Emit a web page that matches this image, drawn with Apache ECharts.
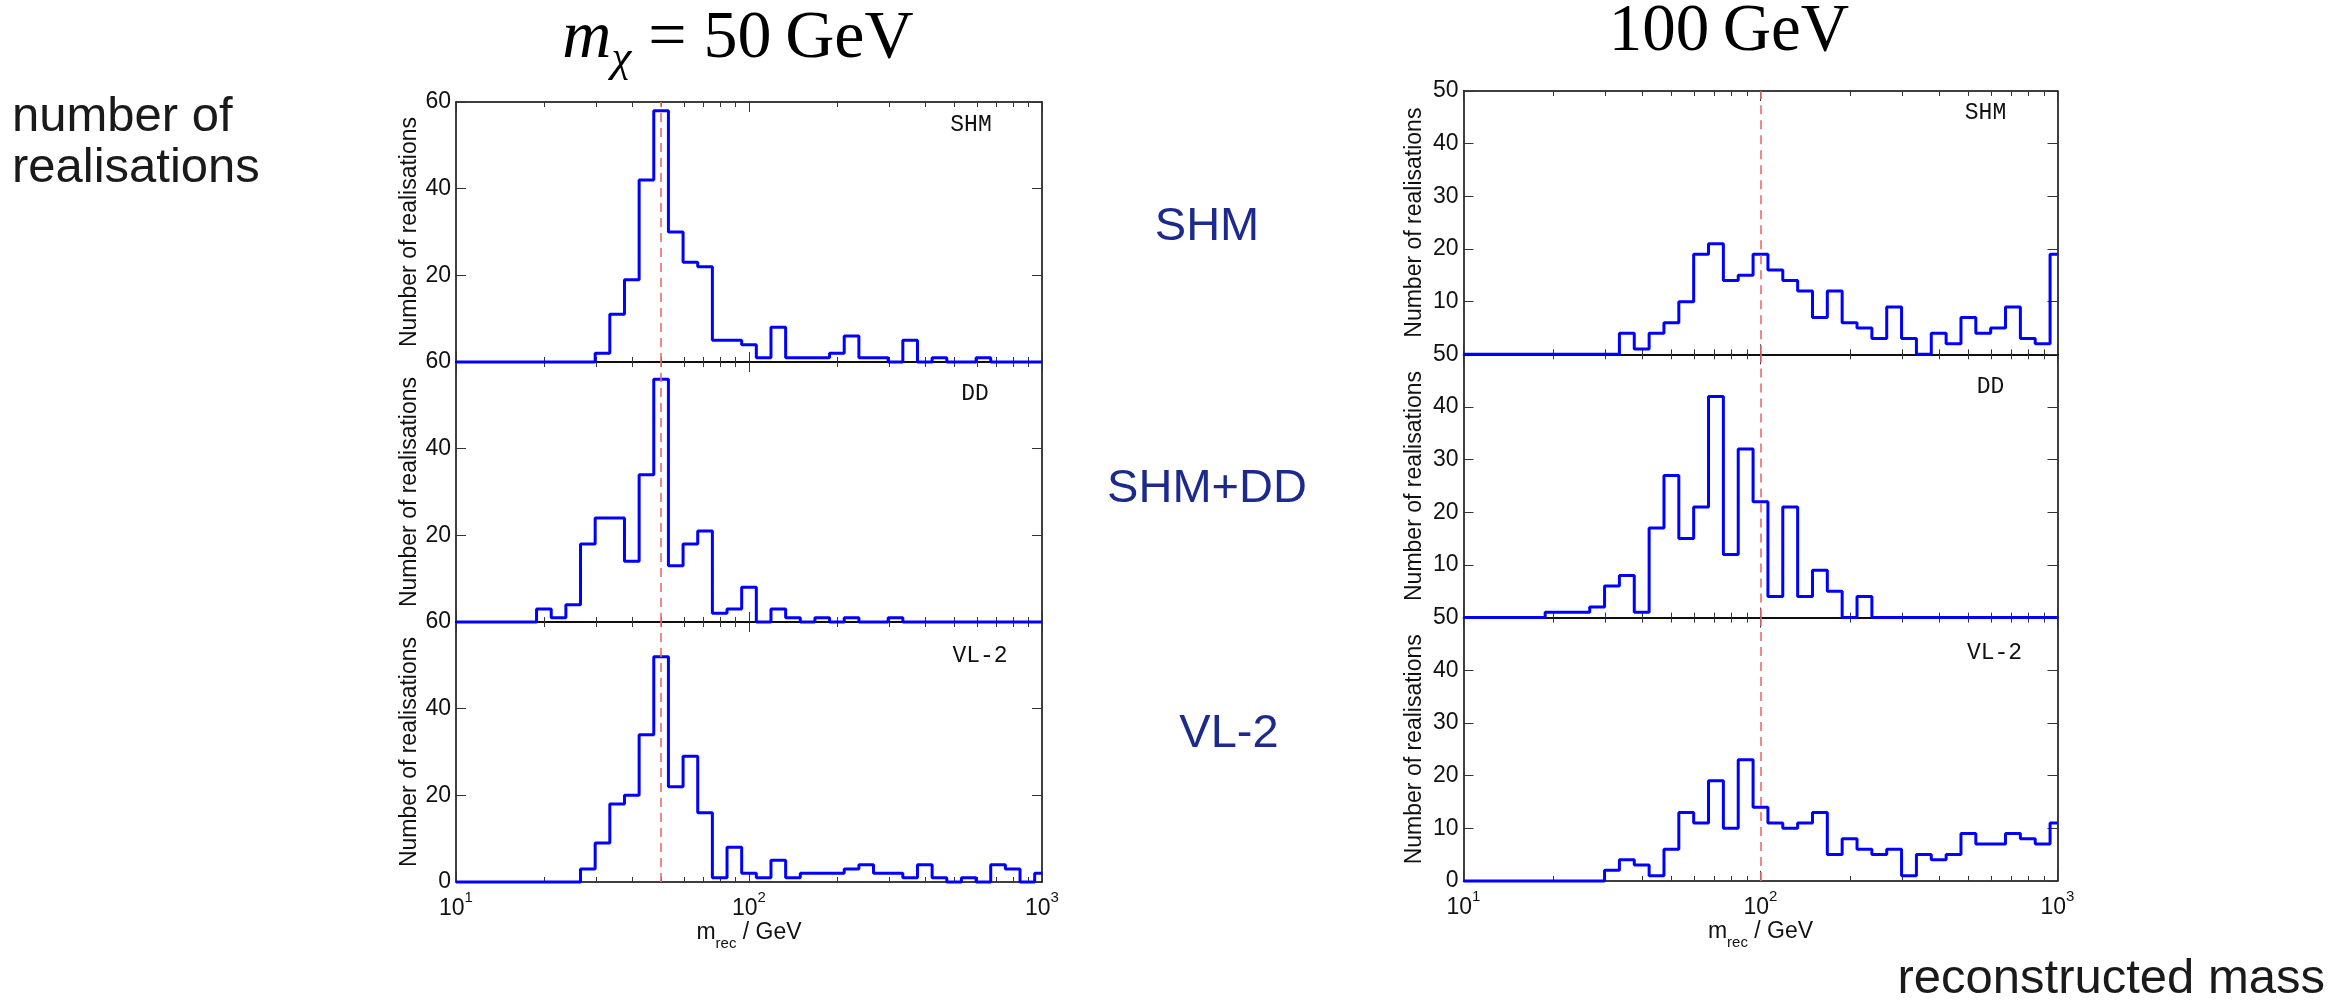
<!DOCTYPE html>
<html>
<head>
<meta charset="utf-8">
<title>Reconstructed WIMP mass histograms</title>
<script src="https://cdn.jsdelivr.net/npm/echarts@6/dist/echarts.min.js"></script>
<style>
  html, body { margin: 0; padding: 0; background: #ffffff; }
  #chart { width: 2343px; height: 1002px; }
</style>
</head>
<body>
<div id="chart"></div>
<script>
// Histogram bin centres in GeV (0.05 dex apart, 10 GeV to 1 TeV)
const binCentres = [10, 11.22, 12.59, 14.13, 15.85, 17.78, 19.95, 22.39, 25.12, 28.18,
  31.62, 35.48, 39.81, 44.67, 50.12, 56.23, 63.10, 70.79, 79.43, 89.13,
  100, 112.2, 125.9, 141.3, 158.5, 177.8, 199.5, 223.9, 251.2, 281.8,
  316.2, 354.8, 398.1, 446.7, 501.2, 562.3, 631.0, 707.9, 794.3, 891.3, 1000];

// Number of realisations per bin, true mass 50 GeV
const m50_SHM = [0,0,0,0,0,0,0,0,0,0, 2,11,19,42,58,30,23,22,5,5, 4,1,8,1,1,1,2,6,1,1, 0,5,0,1,0,0,1,0,0,0, 0];
const m50_DD  = [0,0,0,0,0,0,3,1,4,18, 24,24,14,34,56,13,18,21,2,3, 8,0,3,1,0,1,0,1,0,0, 1,0,0,0,0,0,0,0,0,0, 0];
const m50_VL2 = [0,0,0,0,0,0,0,0,0,3, 9,18,20,34,52,22,29,16,1,8, 2,1,5,1,2,2,2,3,4,2, 2,1,4,1,0,1,0,4,3,0, 2];

// Number of realisations per bin, true mass 100 GeV
const m100_SHM = [0,0,0,0,0,0,0,0,0,0, 0,4,1,4,6,10,19,21,14,15, 19,16,14,12,7,12,6,5,3,9, 3,0,4,2,7,4,5,9,3,2, 19];
const m100_DD  = [0,0,0,0,0,0,1,1,1,2, 6,8,1,17,27,15,21,42,12,32, 22,4,21,4,9,5,0,4,0,0, 0,0,0,0,0,0,0,0,0,0, 0];
const m100_VL2 = [0,0,0,0,0,0,0,0,0,0, 2,4,3,1,6,13,11,19,10,23, 14,11,10,11,13,5,8,6,5,6, 1,5,4,5,9,7,7,9,8,7, 11];

const trueMasses = [50, 100];
const haloModels = ['SHM', 'DD', 'VL-2'];
const countsByColumn = [[m50_SHM, m50_DD, m50_VL2], [m100_SHM, m100_DD, m100_VL2]];
const yMaxByColumn = [60, 50];
const yStepByColumn = [20, 10];
const majorTicks = [10, 100, 1000];
const minorTicks = [20, 30, 40, 50, 60, 70, 80, 90, 200, 300, 400, 500, 600, 700, 800, 900];
const rowTitles = ['SHM', 'SHM+DD', 'VL-2'];

const SANS = "'Liberation Sans', Arial, Helvetica, sans-serif";
const SERIF = "'Liberation Serif', 'Times New Roman', serif";
const MONO = "'Liberation Mono', 'Courier New', monospace";

// Panel placement (pixels) for the two columns of stacked histograms
const columns = [
  { left: 456, top: 102, width: 586, height: 260, nameGap: 35, tagDx: [-71, -67, -62], tagDy: [23, 32, 34] },
  { left: 1463.5, top: 91, width: 594, height: 263.3, nameGap: 37, tagDx: [-72, -67, -63], tagDy: [22, 33, 35] }
];

const grids = [], xAxes = [], yAxes = [], series = [], graphics = [];

function logAxis(gridIndex, position, ticks, tickLen, drawLine, withLabels) {
  const ax = {
    gridIndex: gridIndex, type: 'log', logBase: 10, min: 10, max: 1000, position: position,
    axisLine: { show: drawLine, onZero: false, lineStyle: { color: '#000', width: 1.5 } },
    axisTick: { show: true, inside: true, length: tickLen, customValues: ticks,
                lineStyle: { color: '#333', width: 1 } },
    axisLabel: { show: false },
    splitLine: { show: false },
    minorTick: { show: false },
    minorSplitLine: { show: false }
  };
  if (withLabels) {
    ax.axisLabel = {
      show: true, customValues: majorTicks, margin: 8,
      formatter: function (v) { return '{b|10}{e|' + Math.round(Math.log10(v)) + '}'; },
      rich: {
        b: { fontSize: 23, fontFamily: SANS, color: '#111', padding: [7, 0, 0, 0] },
        e: { fontSize: 15, fontFamily: SANS, color: '#111', verticalAlign: 'top' }
      }
    };
    ax.name = '{m|m}{s|rec}{m| / GeV}';
    ax.nameLocation = 'middle';
    ax.nameGap = 28;
    ax.nameTextStyle = {
      rich: {
        m: { fontSize: 23, fontFamily: SANS, color: '#111', lineHeight: 38 },
        s: { fontSize: 15, fontFamily: SANS, color: '#111', lineHeight: 15, verticalAlign: 'bottom' }
      }
    };
  }
  return ax;
}

columns.forEach(function (col, c) {
  const yMax = yMaxByColumn[c];
  for (let r = 0; r < 3; r++) {
    const isBottom = r === 2;
    const rect = { left: col.left, top: col.top + r * col.height, width: col.width, height: col.height };
    const gMain = grids.length;
    grids.push(Object.assign({ show: false }, rect));
    const gMinor = grids.length;
    grids.push(Object.assign({ show: false }, rect));

    const xMain = xAxes.length;
    xAxes.push(logAxis(gMain, 'bottom', majorTicks, 10, true, isBottom));
    xAxes.push(logAxis(gMain, 'top', majorTicks, 10, true, false));
    xAxes.push(logAxis(gMinor, 'bottom', minorTicks, 5, false, false));
    xAxes.push(logAxis(gMinor, 'top', minorTicks, 5, false, false));

    const yMain = yAxes.length;
    yAxes.push({
      gridIndex: gMain, type: 'value', min: 0, max: yMax, interval: yStepByColumn[c], position: 'left',
      axisLine: { show: true, onZero: false, lineStyle: { color: '#000', width: 1.5 } },
      axisTick: { show: true, inside: true, length: 10, lineStyle: { color: '#333', width: 1 } },
      axisLabel: { show: true, fontSize: 23, fontFamily: SANS, color: '#111', margin: 5,
                   showMinLabel: isBottom, showMaxLabel: true },
      splitLine: { show: false },
      name: 'Number of realisations', nameLocation: 'middle', nameGap: col.nameGap, nameRotate: 90,
      nameTextStyle: { fontSize: 23, fontFamily: SANS, color: '#111' }
    });
    yAxes.push({
      gridIndex: gMain, type: 'value', min: 0, max: yMax, interval: yStepByColumn[c], position: 'right',
      axisLine: { show: true, onZero: false, lineStyle: { color: '#000', width: 1.5 } },
      axisTick: { show: true, inside: true, length: 10, lineStyle: { color: '#333', width: 1 } },
      axisLabel: { show: false },
      splitLine: { show: false }
    });
    yAxes.push({ gridIndex: gMinor, type: 'value', min: 0, max: yMax, show: false });

    // true-mass marker
    series.push({
      type: 'line', xAxisIndex: xMain, yAxisIndex: yMain, data: [], z: 2, silent: true,
      markLine: {
        silent: true, symbol: ['none', 'none'], label: { show: false }, animation: false,
        lineStyle: { color: '#f06a6a', type: [9, 6], width: 1.6 },
        data: [{ xAxis: trueMasses[c] }]
      }
    });
    // histogram of reconstructed masses
    const counts = countsByColumn[c][r];
    series.push({
      type: 'line', name: haloModels[r], xAxisIndex: xMain, yAxisIndex: yMain, z: 4,
      step: 'middle', symbol: 'none', showSymbol: false, clip: false, silent: true,
      lineStyle: { color: '#0000ff', width: 3 },
      data: binCentres.map(function (m, i) { return [m, counts[i]]; })
    });

    graphics.push({
      type: 'text', x: col.left + col.width + col.tagDx[r], y: rect.top + col.tagDy[r], silent: true,
      style: { text: haloModels[r], font: '23px ' + MONO, fill: '#111', align: 'center', verticalAlign: 'middle' }
    });
  }
});

// column titles
graphics.push({
  type: 'text', x: 738, y: 39, silent: true,
  style: {
    text: '{i|m}{c|χ}{r| = 50\u2009GeV}', align: 'center', verticalAlign: 'middle',
    rich: {
      i: { fontFamily: SERIF, fontStyle: 'italic', fontSize: 68, lineHeight: 86, fill: '#000' },
      c: { fontFamily: SERIF, fontStyle: 'italic', fontSize: 45, lineHeight: 45, verticalAlign: 'bottom', fill: '#000' },
      r: { fontFamily: SERIF, fontSize: 68, lineHeight: 86, fill: '#000' }
    }
  }
});
graphics.push({
  type: 'text', x: 1729, y: 32, silent: true,
  style: { text: '100\u2009GeV', font: '67px ' + SERIF, fill: '#000', align: 'center', verticalAlign: 'middle' }
});

// side annotations
graphics.push({
  type: 'text', x: 12, y: 117, silent: true,
  style: { text: 'number of', font: '49px ' + SANS, fill: '#1a1a1a', align: 'left', verticalAlign: 'middle' }
});
graphics.push({
  type: 'text', x: 12, y: 168, silent: true,
  style: { text: 'realisations', font: '49px ' + SANS, fill: '#1a1a1a', align: 'left', verticalAlign: 'middle' }
});
const rowTitleX = [1207, 1207, 1229];
const rowTitleY = [227, 489, 734];
rowTitles.forEach(function (t, i) {
  graphics.push({
    type: 'text', x: rowTitleX[i], y: rowTitleY[i], silent: true,
    style: { text: t, font: '47px ' + SANS, fill: '#1b2a8c', align: 'center', verticalAlign: 'middle' }
  });
});
graphics.push({
  type: 'text', x: 2325, y: 979, silent: true,
  style: { text: 'reconstructed mass', font: '49px ' + SANS, fill: '#1a1a1a', align: 'right', verticalAlign: 'middle' }
});

const chart = echarts.init(document.getElementById('chart'), null, { renderer: 'canvas' });
chart.setOption({
  animation: false,
  backgroundColor: '#ffffff',
  grid: grids,
  xAxis: xAxes,
  yAxis: yAxes,
  series: series,
  graphic: graphics
});
</script>
</body>
</html>
